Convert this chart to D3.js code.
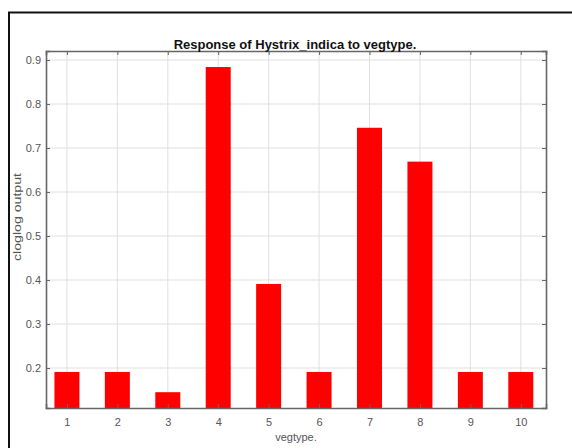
<!DOCTYPE html>
<html><head><meta charset="utf-8">
<script src="https://cdn.jsdelivr.net/npm/d3@7"></script>
<style>body{margin:0;background:#fff}svg{display:block}</style>
</head><body>
<script>
const categories = [1,2,3,4,5,6,7,8,9,10];
const values = [0.191,0.191,0.145,0.884,0.391,0.191,0.746,0.669,0.191,0.191];
const yTicks = [0.2,0.3,0.4,0.5,0.6,0.7,0.8,0.9];
const title = "Response of Hystrix_indica to vegtype.";
const xLabel = "vegtype.";
const yLabel = "cloglog output";

const W = 572, H = 448;
const FONT = "Liberation Sans, Arial, sans-serif";
const svg = d3.select("body").append("svg").attr("width", W).attr("height", H);
// outer frame (left & top visible)
svg.append("path").attr("d", "M9,448 V12.5 H572").attr("fill","none").attr("stroke","#111").attr("stroke-width",2);

const L = 46, R = 546, T = 51, B = 408;
const x = d3.scaleLinear().domain([0.585, 10.5]).range([L, R]);
const y = d3.scaleLinear().domain([0.2, 0.9]).range([368, 60]);
const yMin = y.invert(B), yMax = y.invert(T);
y.domain([yMin, yMax]).range([B, T]);

const g = svg.append("g");
// grid
g.selectAll(".gx").data(categories).enter().append("line")
  .attr("x1", d=>x(d)).attr("x2", d=>x(d)).attr("y1", T).attr("y2", B)
  .attr("stroke", "#e0e0e0").attr("stroke-width", 1);
g.selectAll(".gy").data(yTicks).enter().append("line")
  .attr("x1", L).attr("x2", R).attr("y1", d=>y(d)).attr("y2", d=>y(d))
  .attr("stroke", "#e0e0e0").attr("stroke-width", 1);
// bars
const bw = 25;
g.selectAll(".bar").data(values).enter().append("rect")
  .attr("x", (d,i)=>x(categories[i]) - bw/2).attr("width", bw)
  .attr("y", d=>y(d)).attr("height", d=>B - y(d))
  .attr("fill", "#ff0000");

// axes
const axCol = "#666";
const xAxis = d3.axisBottom(x).tickValues(categories).tickSize(-4).tickPadding(10).tickFormat(d3.format("d"));
const xa = svg.append("g").attr("transform", `translate(0,${B})`).call(xAxis);
const yAxis = d3.axisLeft(y).tickValues(yTicks).tickSize(-4).tickPadding(5).tickFormat(d3.format(".1f"));
const ya = svg.append("g").attr("transform", `translate(${L},0)`).call(yAxis);
const xt = svg.append("g").attr("transform", `translate(0,${T})`).call(d3.axisTop(x).tickValues(categories).tickSize(-4).tickFormat(""));
const yr = svg.append("g").attr("transform", `translate(${R},0)`).call(d3.axisRight(y).tickValues(yTicks).tickSize(-4).tickFormat(""));
[xa, ya, xt, yr].forEach(a => {
  a.select(".domain").attr("stroke", axCol).attr("stroke-width", 1.6);
  a.selectAll(".tick line").attr("stroke", axCol);
  a.selectAll("text").attr("fill", "#555").attr("font-family", FONT).attr("font-size", 11);
});

svg.append("text").attr("x", 295).attr("y", 49).attr("text-anchor", "middle")
  .attr("font-family", FONT).attr("font-weight", "bold").attr("font-size", 13)
  .attr("fill", "#111").text(title);
svg.append("text").attr("x", 296).attr("y", 441).attr("text-anchor", "middle")
  .attr("font-family", FONT).attr("font-size", 11)
  .attr("fill", "#555").text(xLabel);
svg.append("text").attr("transform", "translate(21,217) rotate(-90)").attr("text-anchor", "middle")
  .attr("font-family", FONT).attr("font-size", 10)
  .attr("textLength", 88).attr("lengthAdjust", "spacingAndGlyphs")
  .attr("fill", "#555").text(yLabel);
</script>
</body></html>
